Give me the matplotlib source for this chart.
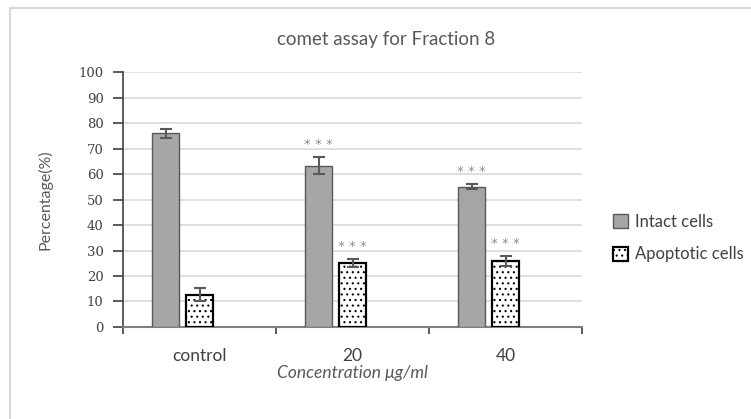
import matplotlib
matplotlib.use("Agg")
import matplotlib.pyplot as plt
from matplotlib.patches import Rectangle

plt.rcParams['font.family'] = ['Lato', 'DejaVu Sans']
plt.rcParams['hatch.linewidth'] = 0.8

categories = ["control", "20", "40"]
intact = [76.0, 63.3, 55.0]
intact_err = [1.7, 3.2, 1.0]
apoptotic = [12.7, 25.0, 25.8]
apoptotic_err = [2.7, 1.5, 2.0]
intact_stars = ["", "* * *", "* * *"]
apoptotic_stars = ["", "* * *", "* * *"]
yticks = list(range(0, 101, 10))

fig = plt.figure(figsize=(7.51, 4.19), dpi=100)
ax = fig.add_axes([0.1638, 0.2196, 0.775 - 0.1638, 0.828 - 0.2196])

# outer chart frame (left and top visible)
fig.patches.append(Rectangle((10 / 751, -0.1), 1.2, 0.1 + 1 - 8 / 419,
                             transform=fig.transFigure, fill=False,
                             edgecolor="#d9d9d9", linewidth=1.5))

x = list(range(len(categories)))
w = 0.175
x1 = [i - 0.222 for i in x]
x2 = [i for i in x]

ax.bar(x1, intact, width=w, color="#a6a6a6", edgecolor="#595959",
       linewidth=1.0, label="Intact cells", zorder=3)
ax.bar(x2, apoptotic, width=w, color="white", edgecolor="black",
       linewidth=1.6, hatch="...", label="Apoptotic cells", zorder=3)

ax.errorbar(x1, intact, yerr=intact_err, fmt="none", ecolor="#595959",
            elinewidth=1.5, capsize=4, capthick=1.5, zorder=4)
ax.errorbar(x2, apoptotic, yerr=apoptotic_err, fmt="none", ecolor="#595959",
            elinewidth=1.5, capsize=4, capthick=1.5, zorder=4)

for xs, vals, errs, stars in [(x1, intact, intact_err, intact_stars),
                              (x2, apoptotic, apoptotic_err, apoptotic_stars)]:
    for xi, v, e, s in zip(xs, vals, errs, stars):
        if s:
            ax.annotate(s, (xi, v + e), xytext=(0, 9), textcoords="offset points",
                        ha="center", va="center", fontsize=9.5, color="#8c8c8c",
                        family="DejaVu Sans")

ax.set_xlim(-0.5, 2.5)
ax.set_ylim(0, 100)
ax.set_yticks(yticks)
ax.set_yticklabels([str(t) for t in yticks], family="DejaVu Serif", fontsize=9.5,
                   color="#404040")
ax.set_xticks(x)
ax.set_xticklabels(categories, fontsize=12.5, color="#404040")
ax.set_xticks([-0.5, 0.5, 1.5, 2.5], minor=True)
ax.tick_params(axis="x", which="major", length=0, pad=15)
ax.tick_params(axis="x", which="minor", length=5, color="#404040", width=1.2)
ax.tick_params(axis="y", length=7, direction="out", color="#404040", width=1.2, pad=7)

ax.yaxis.grid(True, color="#d9d9d9", linewidth=1.2, zorder=0)
ax.set_axisbelow(True)
for side in ["top", "right"]:
    ax.spines[side].set_visible(False)
ax.spines["left"].set_color("#404040")
ax.spines["bottom"].set_color("#808080")
ax.spines["left"].set_linewidth(1.2)
ax.spines["bottom"].set_linewidth(1.5)

ax.set_ylabel("Percentage(%)", fontsize=11.5, color="#595959", labelpad=19)
ax.set_xlabel("Concentration \u03bcg/ml", fontsize=12.5, style="italic",
              color="#595959", labelpad=1)
fig.text(386 / 751, 1 - 40 / 419, "comet assay for Fraction 8", ha="center",
         va="center", fontsize=13.5, color="#595959")

leg = fig.legend(loc="center left", bbox_to_anchor=(613 / 751, 1 - 238 / 419),
                 frameon=False, borderpad=0, borderaxespad=0,
                 fontsize=12, handlelength=0.9, handleheight=0.9, labelspacing=1.0,
                 handletextpad=0.4, labelcolor="#404040")

fig.savefig("out.png", dpi=100)
